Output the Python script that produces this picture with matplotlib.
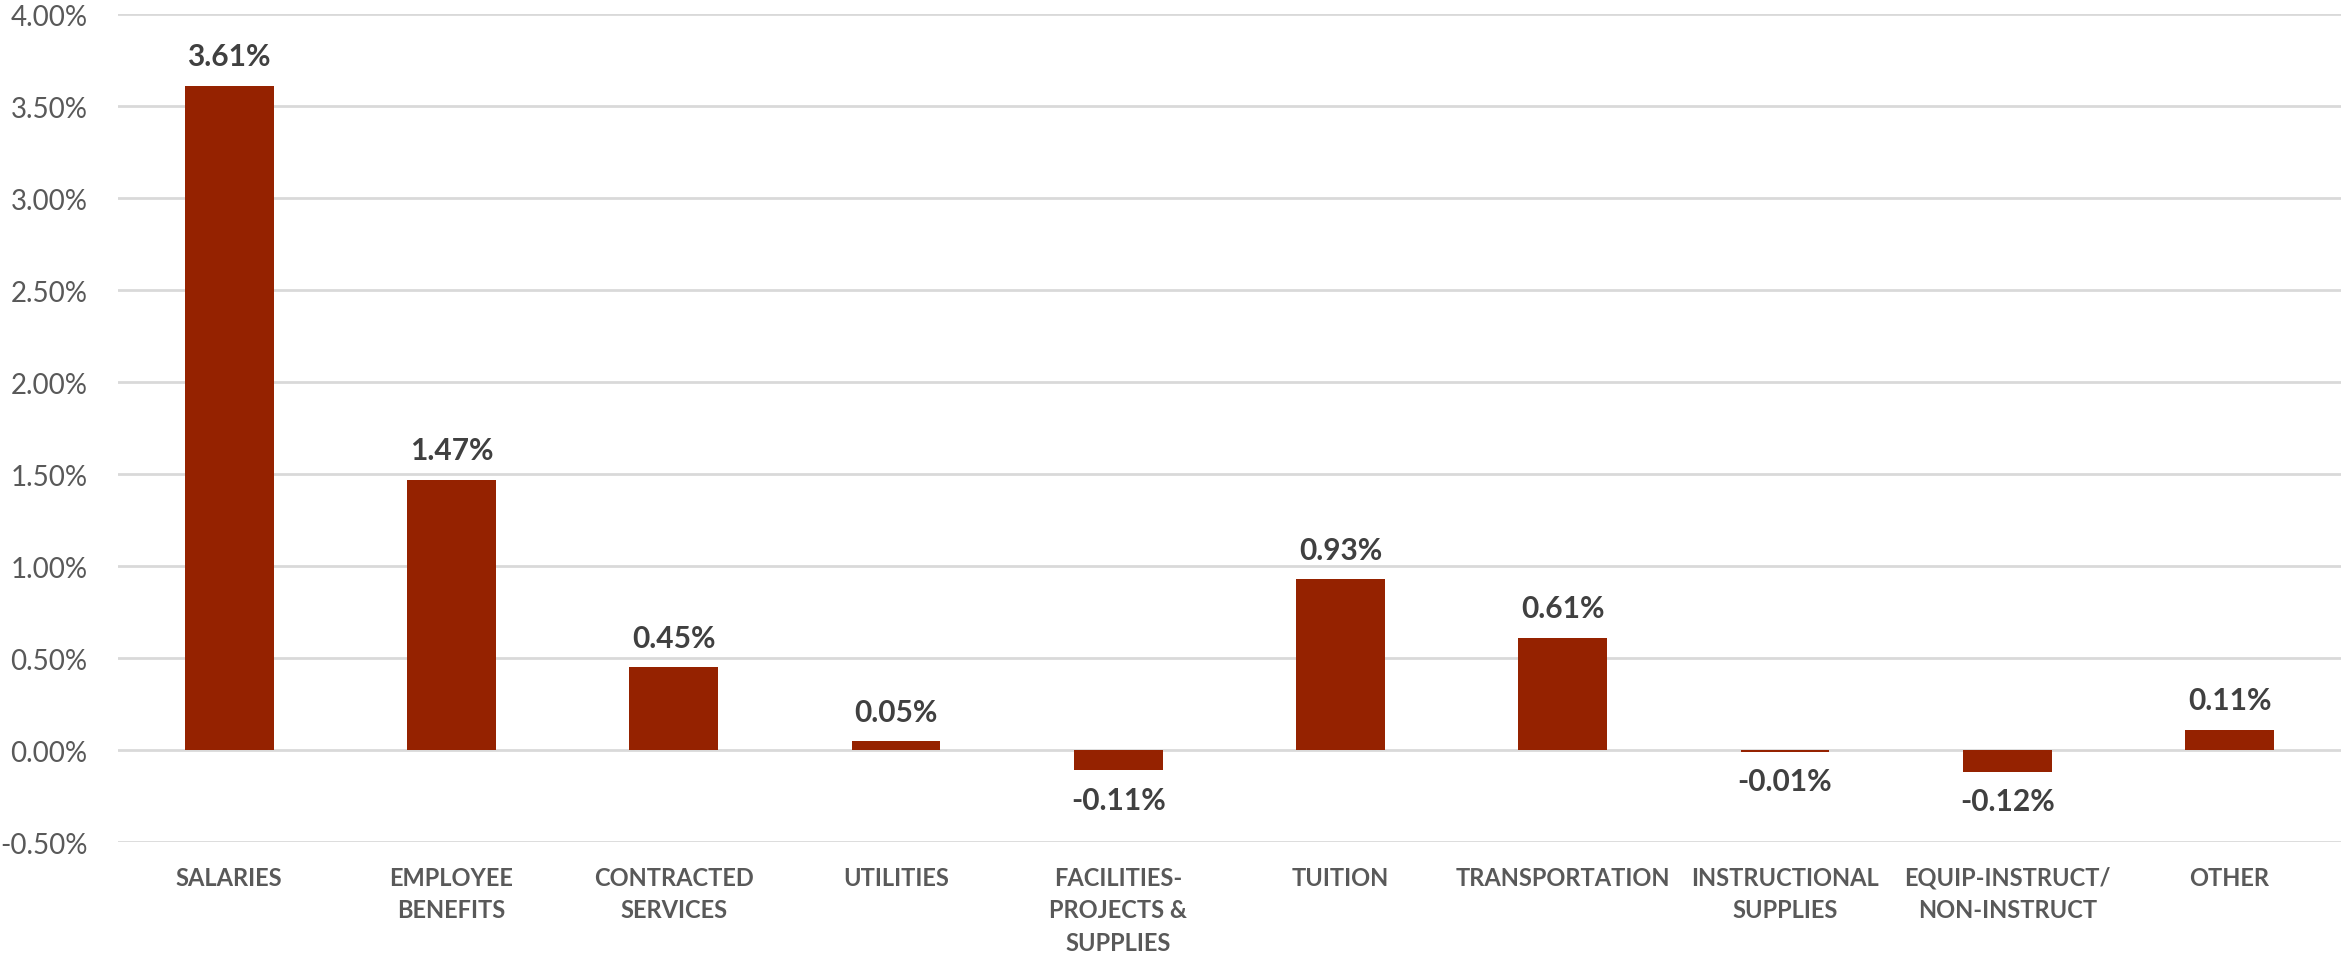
import matplotlib.pyplot as plt
from matplotlib.ticker import FuncFormatter, MultipleLocator

categories = ["SALARIES", "EMPLOYEE\nBENEFITS", "CONTRACTED\nSERVICES", "UTILITIES",
              "FACILITIES-\nPROJECTS &\nSUPPLIES", "TUITION", "TRANSPORTATION",
              "INSTRUCTIONAL\nSUPPLIES", "EQUIP-INSTRUCT/\nNON-INSTRUCT", "OTHER"]
pct_change = [3.61, 1.47, 0.45, 0.05, -0.11, 0.93, 0.61, -0.01, -0.12, 0.11]

bar_color = "#952200"
label_gray = "#404040"
tick_gray = "#595959"

plt.rcParams["font.family"] = ["Lato", "DejaVu Sans"]

fig = plt.figure(figsize=(23.43, 9.62), dpi=100)
ax = fig.add_axes([0.0504, 0.1237, 0.9486, 0.8607])

x = range(len(categories))
bars = ax.bar(x, pct_change, width=0.4, color=bar_color, zorder=3)

# value labels above positive bars, below negative ones
for rect, v in zip(bars, pct_change):
    cx = rect.get_x() + rect.get_width() / 2
    if v >= 0:
        ax.annotate(f"{v:.2f}%", (cx, v), xytext=(0, 11), textcoords="offset points",
                    ha="center", va="bottom", fontsize=21.5, fontweight="bold", color=label_gray)
    else:
        ax.annotate(f"{v:.2f}%", (cx, v), xytext=(0, -11), textcoords="offset points",
                    ha="center", va="top", fontsize=21.5, fontweight="bold", color=label_gray)

ax.set_xlim(-0.5, len(categories) - 0.5)
ax.set_ylim(-0.5, 4.0)
ax.yaxis.set_major_locator(MultipleLocator(0.5))
ax.yaxis.set_major_formatter(FuncFormatter(lambda v, _: f"{v:.2f}%"))
ax.grid(axis="y", color="#d9d9d9", linewidth=2, zorder=0)

ax.set_xticks(list(x))
ax.set_xticklabels(categories, fontsize=17, fontweight="bold", color=tick_gray, linespacing=1.5)
ax.tick_params(axis="x", length=0, pad=17)
ax.tick_params(axis="y", length=0, pad=22, labelsize=20, labelcolor=tick_gray)

for s in ax.spines.values():
    s.set_visible(False)

fig.savefig("out.png", dpi=100)
